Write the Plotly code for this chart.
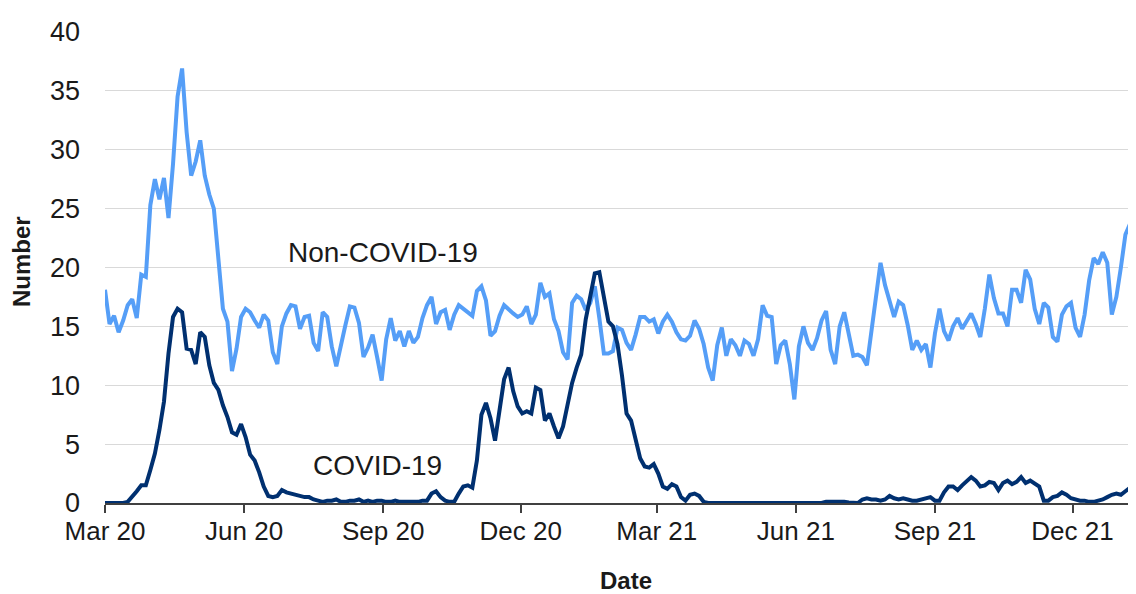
import pandas as pd
import plotly.graph_objects as go

# Values every 3 days starting 1 Mar 2020
start_date = "2020-03-01"
step = "3D"

non_covid = [
    18.1, 15.2, 15.9, 14.5, 15.5, 16.8, 17.3, 15.7, 19.4, 19.2,
    25.3, 27.5, 25.8, 27.6, 24.2, 28.8, 34.5, 36.9, 31.5, 27.8,
    29.0, 30.8, 27.8, 26.2, 25.0, 20.8, 16.5, 15.4, 11.2, 13.1,
    15.8, 16.5, 16.2, 15.5, 14.9, 16.0, 15.5, 12.8,
    11.8, 15.0, 16.1, 16.8, 16.7, 14.8, 15.8, 15.9, 13.6, 12.9,
    16.2, 15.8, 13.3, 11.6, 13.5, 15.1, 16.7, 16.6, 15.3, 12.4,
    13.2, 14.3, 12.4, 10.4, 13.9, 15.7, 13.8, 14.6, 13.3, 14.6,
    13.6, 14.1, 15.7, 16.8, 17.5, 15.2, 16.2,
    16.4, 14.7, 16.0, 16.8, 16.5, 16.1, 15.9, 18.0, 18.4, 17.2,
    14.2, 14.6, 15.9, 16.8, 16.4, 16.1, 15.8, 16.0, 16.7, 15.2,
    16.0, 18.7, 17.5, 17.8, 15.6, 14.6, 12.8, 12.2, 17.0, 17.6,
    17.3, 16.4, 17.0, 18.4, 15.7, 12.7, 12.7, 12.9,
    14.9, 14.7, 13.6, 13.0, 14.3, 15.8, 15.8, 15.4, 15.6, 14.4,
    15.4, 16.0, 15.4, 14.5, 13.9, 13.8, 14.2, 15.5, 14.8, 13.5,
    11.5, 10.4, 13.4, 14.9, 12.5, 13.9, 13.4, 12.5, 13.8, 13.5,
    12.5, 13.9, 16.8, 15.9, 15.8, 11.8, 13.4,
    13.8, 11.8, 8.8, 13.3, 15.0, 13.6, 13.0, 14.0, 15.5, 16.3,
    13.0, 11.8, 15.0, 16.2, 14.5, 12.5, 12.6, 12.4, 11.7, 14.5,
    17.7, 20.4, 18.5, 17.0, 15.8, 17.1, 16.8, 15.1, 13.0, 13.8,
    13.0, 13.5, 11.5, 14.4, 16.5, 14.6, 13.8,
    15.0, 15.7, 14.8, 15.5, 16.1, 15.2, 14.1, 16.5, 19.4, 17.4,
    16.1, 16.1, 15.0, 18.1, 18.1, 17.0, 19.8, 19.0, 16.5, 15.2,
    17.0, 16.6, 14.1, 13.7, 16.0, 16.7, 17.0, 14.9, 14.1, 16.0,
    18.9, 20.8, 20.3, 21.3, 20.4, 16.0, 17.5, 20.0, 22.8, 23.7,
    17.0,
]

covid = [
    0, 0, 0, 0, 0, 0.1, 0.5, 1.0, 1.5, 1.5,
    2.8, 4.2, 6.2, 8.6, 12.7, 15.8, 16.5, 16.2, 13.1, 13.0,
    11.8, 14.5, 14.1, 11.7, 10.2, 9.6, 8.3, 7.3, 6.0, 5.8,
    6.7, 5.6, 4.1, 3.6, 2.6, 1.4, 0.6, 0.5,
    0.6, 1.1, 0.9, 0.8, 0.7, 0.6, 0.5, 0.5, 0.3, 0.2,
    0.1, 0.2, 0.2, 0.3, 0.1, 0.1, 0.2, 0.2, 0.3, 0.1,
    0.2, 0.1, 0.2, 0.2, 0.1, 0.1, 0.2, 0.1, 0.1, 0.1,
    0.1, 0.1, 0.2, 0.2, 0.8, 1.0, 0.5,
    0.2, 0.1, 0.1, 0.8, 1.4, 1.5, 1.3, 3.6, 7.5, 8.5,
    7.2, 5.3, 8.2, 10.5, 11.5, 9.5, 8.2, 7.6, 7.8, 7.6,
    9.8, 9.6, 7.0, 7.6, 6.5, 5.5, 6.5, 8.2, 10.2, 11.5,
    12.6, 15.6, 17.4, 19.5, 19.6, 17.5, 15.4, 15.0,
    13.5, 10.8, 7.6, 7.0, 5.4, 3.8, 3.1, 3.0, 3.3, 2.5,
    1.4, 1.2, 1.6, 1.4, 0.5, 0.2, 0.7, 0.8, 0.6, 0.1,
    0, 0, 0, 0, 0, 0, 0, 0, 0, 0,
    0, 0, 0, 0, 0, 0, 0,
    0, 0, 0, 0, 0, 0, 0, 0, 0, 0.1,
    0.1, 0.15, 0.1, 0.1, 0.05, 0.05, 0, 0.3, 0.4, 0.3,
    0.3, 0.2, 0.3, 0.6, 0.4, 0.3, 0.4, 0.3, 0.2, 0.2,
    0.3, 0.4, 0.5, 0.2, 0.2, 0.9, 1.4,
    1.4, 1.1, 1.5, 1.9, 2.2, 1.9, 1.4, 1.5, 1.8, 1.7,
    1.1, 1.7, 1.9, 1.6, 1.8, 2.2, 1.7, 1.9, 1.6, 1.4,
    0.2, 0.2, 0.5, 0.6, 0.9, 0.7, 0.4, 0.3, 0.2, 0.2,
    0.1, 0.1, 0.2, 0.3, 0.5, 0.7, 0.8, 0.7, 1.0, 1.3,
    2.8,
]

y_ticks = [0, 5, 10, 15, 20, 25, 30, 35, 40]
x_end = "2022-01-12"

dates = pd.date_range(start=start_date, periods=len(non_covid), freq=step)

FONT = "Liberation Sans, Arial, sans-serif"
LIGHT = "#559ef7"
DARK = "#003070"

fig = go.Figure()
fig.add_trace(go.Scatter(x=dates, y=non_covid, mode="lines", name="Non-COVID-19",
                         line=dict(color=LIGHT, width=4)))
fig.add_trace(go.Scatter(x=dates[:len(covid)], y=covid, mode="lines", name="COVID-19",
                         line=dict(color=DARK, width=4)))

fig.update_layout(
    width=1128, height=586,
    margin=dict(l=97, r=0, t=24, b=91),
    plot_bgcolor="white", paper_bgcolor="white",
    showlegend=False,
    font=dict(family=FONT, size=26, color="#1a1a1a"),
    xaxis=dict(
        type="date",
        range=[start_date, x_end],
        tick0="2020-03-01", dtick="M3", tickformat="%b %y",
        showgrid=False, zeroline=False,
        showline=True, linecolor="#404040", linewidth=1.5,
        ticks="outside", ticklen=8, tickcolor="#404040", tickwidth=1.5,
        ticklabelstandoff=-4,
        tickfont=dict(size=26),
    ),
    yaxis=dict(
        range=[0, 40], tickvals=y_ticks,
        showgrid=True, gridcolor="#d9d9d9", gridwidth=1,
        zeroline=False, showline=False, ticks="",
        ticklabelstandoff=24,
        tickfont=dict(size=27),
    ),
    annotations=[
        dict(text="Non-COVID-19", x=pd.Timestamp("2020-09-01"), y=21.3, xref="x", yref="y",
             showarrow=False, xanchor="center", yanchor="middle", font=dict(size=28)),
        dict(text="COVID-19", x=pd.Timestamp("2020-08-28"), y=3.2, xref="x", yref="y",
             showarrow=False, xanchor="center", yanchor="middle", font=dict(size=28)),
        dict(text="<b>Number</b>", x=-0.0805, y=0.5117, xref="paper", yref="paper",
             showarrow=False, textangle=-90, xanchor="center", yanchor="middle",
             font=dict(size=24)),
        dict(text="<b>Date</b>", x=0.5053, y=-0.1635, xref="paper", yref="paper",
             showarrow=False, xanchor="center", yanchor="middle", font=dict(size=24)),
    ],
)

fig.write_html("out.html")
